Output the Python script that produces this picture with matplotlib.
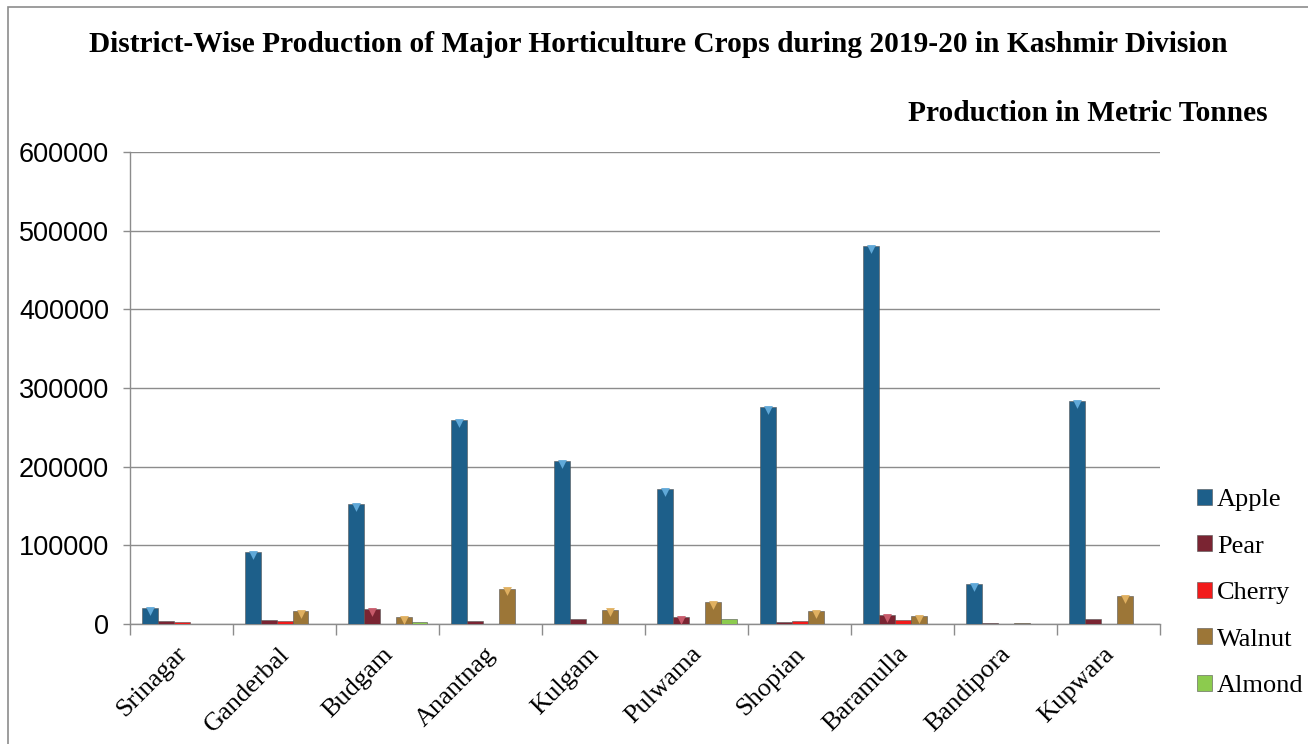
import numpy as np
import matplotlib.pyplot as plt
from matplotlib.patches import Rectangle

districts = ["Srinagar", "Ganderbal", "Budgam", "Anantnag", "Kulgam",
             "Pulwama", "Shopian", "Baramulla", "Bandipora", "Kupwara"]
apple = [20300, 91500, 152500, 259000, 207000, 171500, 275700, 480000, 50400, 283000]
pear = [3500, 5000, 18700, 3400, 6000, 8500, 2500, 11400, 1000, 6000]
cherry = [3000, 4000, 300, 200, 200, 200, 3800, 4500, 300, 200]
walnut = [500, 16500, 8500, 44900, 18200, 27500, 16500, 9700, 800, 35600]
almond = [300, 100, 2000, 100, 100, 6700, 100, 100, 100, 100]

crops = ["Apple", "Pear", "Cherry", "Walnut", "Almond"]
values = [apple, pear, cherry, walnut, almond]
colors = ["#1d5f8a", "#7a2432", "#f21a1a", "#9c7637", "#8ccb4e"]
tips = ["#5fa8d8", "#c75a6a", "#ff8080", "#e0b060", "#c4f090"]

SERIF = "Liberation Serif"

fig = plt.figure(figsize=(13.08, 7.44), dpi=100)
ax = fig.add_axes([0.0994, 0.1613, 0.7876, 0.6344])

x = np.arange(len(districts))
bw = 0.155
for i, (name, vals, c, tc) in enumerate(zip(crops, values, colors, tips)):
    off = (i - 2) * bw
    ax.bar(x + off, vals, width=bw, color=c, edgecolor="#555555", linewidth=0.4,
           label=name, zorder=3)
    # bevel hint at the top of each bar
    big = [k for k, v in enumerate(vals) if v > 8000]
    ax.scatter(x[big] + off, [vals[k] - 3500 for k in big], marker="v", s=40,
               color=tc, zorder=4, linewidths=0)

ax.set_xlim(-0.5, len(districts) - 0.5)
ax.set_ylim(0, 600000)
ax.set_yticks(np.arange(0, 600001, 100000))
ax.set_yticklabels([str(v) for v in range(0, 600001, 100000)],
                   fontfamily="Liberation Sans", fontsize=19.5)
ax.yaxis.grid(True, color="#8c8c8c", linewidth=1.0, zorder=0)
ax.set_axisbelow(True)

ax.set_xticks(np.arange(-0.5, len(districts)), minor=False)
ax.set_xticklabels([])
ax.tick_params(axis="x", length=8, color="#8c8c8c", width=1.0)
ax.tick_params(axis="y", length=5, color="#8c8c8c", width=1.0, pad=10)
for k, d in enumerate(districts):
    ax.text(k - 0.06, -24000, d, rotation=45, ha="right", va="top",
            rotation_mode="anchor", fontfamily=SERIF, fontsize=19)

for s in ["top", "right"]:
    ax.spines[s].set_visible(False)
for s in ["left", "bottom"]:
    ax.spines[s].set_color("#8c8c8c")
    ax.spines[s].set_linewidth(1.0)

fig.text(0.503, 0.94, "District-Wise Production of Major Horticulture Crops during 2019-20 in Kashmir Division",
         ha="center", va="center", fontfamily=SERIF, fontweight="bold", fontsize=21.2)
fig.text(0.969, 0.848, "Production in Metric Tonnes", ha="right", va="center",
         fontfamily=SERIF, fontweight="bold", fontsize=21.2)

leg = fig.legend(loc="upper left", bbox_to_anchor=(0.897, 0.375), frameon=False,
                 prop={"family": SERIF, "size": 19}, handlelength=0.55,
                 handleheight=0.55, handletextpad=0.2, labelspacing=0.92)

fig.add_artist(Rectangle((0.006, -0.01), 1.2, 1.0, transform=fig.transFigure,
                         fill=False, edgecolor="#8c8c8c", linewidth=1.2))

fig.savefig("out.png", dpi=100)
